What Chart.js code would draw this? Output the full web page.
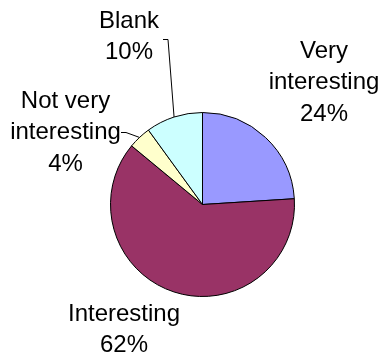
<!DOCTYPE html>
<html>
<head>
<meta charset="utf-8">
<script src="https://cdn.jsdelivr.net/npm/chart.js@4"></script>
<style>
  html, body { margin: 0; padding: 0; background: #fff; }
  #wrap { position: relative; width: 385px; height: 356px; }
</style>
</head>
<body>
<div id="wrap"><canvas id="pie"></canvas></div>
<script>
(function () {
  'use strict';

  // ── Data ────────────────────────────────────────────────────────────────
  const categories = ['Very interesting', 'Interesting', 'Not very interesting', 'Blank'];
  const percents   = [24, 62, 4, 10];
  const colours    = ['#9999FF', '#993366', '#FFFFCC', '#CCFFFF'];

  // label text lines (the % line is appended from percents)
  const labelLines = [['Very', 'interesting'], ['Interesting'], ['Not very', 'interesting'], ['Blank']];

  // ── Label layout: centre x and first-line y, plus optional leader start
  const labelLayout = [
    { x: 324,  y: 51 },
    { x: 124,  y: 314 },
    { x: 65.5, y: 101, leader: { x: 121, y: 132 } },
    { x: 129,  y: 21,  leader: { x: 163, y: 39 } },
  ];
  const LINE_H = 31.7;
  const FONT = '24px "Liberation Sans", Arial, sans-serif';

  // ── Plugin: data labels with leader lines ───────────────────────────────
  const pieLabels = {
    id: 'pieLabels',
    afterDatasetsDraw(chart) {
      const ctx = chart.ctx;
      const meta = chart.getDatasetMeta(0);
      ctx.save();
      ctx.font = FONT;
      ctx.fillStyle = '#000';
      ctx.textAlign = 'center';
      ctx.textBaseline = 'middle';

      meta.data.forEach((arc, i) => {
        const pos = labelLayout[i];
        const lines = labelLines[i].concat([percents[i] + '%']);
        lines.forEach((t, k) => ctx.fillText(t, pos.x, pos.y + k * LINE_H));

        if (pos.leader) {
          const p = arc.getProps(['x', 'y', 'startAngle', 'endAngle', 'outerRadius'], true);
          const mid = (p.startAngle + p.endAngle) / 2;
          const ex = p.x + Math.cos(mid) * p.outerRadius;
          const ey = p.y + Math.sin(mid) * p.outerRadius;
          ctx.beginPath();
          ctx.strokeStyle = '#000';
          ctx.lineWidth = 1;
          ctx.moveTo(pos.leader.x, pos.leader.y + 0.5);
          ctx.lineTo(pos.leader.x + 5, pos.leader.y + 0.5);
          ctx.lineTo(ex, ey);
          ctx.stroke();
        }
      });
      ctx.restore();
    },
  };

  new Chart(document.getElementById('pie'), {
    type: 'pie',
    data: {
      labels: categories,
      datasets: [{
        data: percents,
        backgroundColor: colours,
        borderColor: '#000',
        borderWidth: 1,
        borderAlign: 'center',
      }],
    },
    options: {
      responsive: true,
      maintainAspectRatio: false,
      animation: false,
      layout: { padding: { left: 110, right: 90, top: 112, bottom: 59 } },
      plugins: {
        legend: { display: false },
        tooltip: { enabled: false },
      },
    },
    plugins: [pieLabels],
  });
})();
</script>
</body>
</html>
